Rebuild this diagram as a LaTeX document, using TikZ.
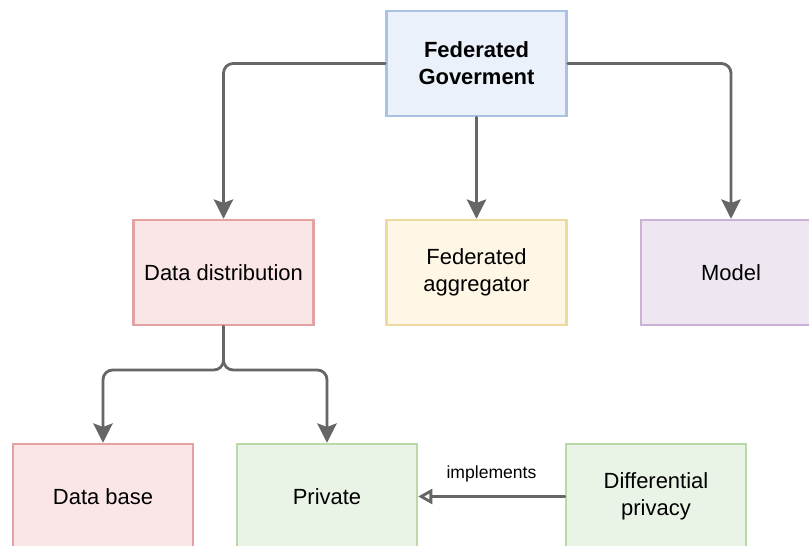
\documentclass[tikz,border=0pt]{standalone}
\usepackage{fontspec}
\setmainfont{Liberation Sans}
\usepackage{tikz}
\usetikzlibrary{arrows.meta}
\usepackage{xcolor}
\definecolor{edgegray}{HTML}{666666}
\definecolor{bluefill}{HTML}{EAF1FB}\definecolor{bluedraw}{HTML}{A9C2E3}
\definecolor{redfill}{HTML}{FAE6E6}\definecolor{reddraw}{HTML}{E3A3A3}
\definecolor{yellowfill}{HTML}{FFF7E5}\definecolor{yellowdraw}{HTML}{EED9A0}
\definecolor{purplefill}{HTML}{EEE7F2}\definecolor{purpledraw}{HTML}{C9B2D6}
\definecolor{greenfill}{HTML}{E9F3E6}\definecolor{greendraw}{HTML}{B9D9A9}

\begin{document}
\begin{tikzpicture}[x=0.02cm,y=-0.02cm,>={Stealth[length=11pt,width=11pt,inset=2pt]},
  font=\fontsize{12.5}{15.3}\selectfont,line cap=round,
  box/.style={draw,line width=1.4pt,minimum width=3.6cm,minimum height=2.1cm,align=center,inner sep=0pt},
  link/.style={->,edgegray,line width=1.6pt,rounded corners=5.5pt}]
\clip (0,0) rectangle (809,546);
\node[box,fill=bluefill,draw=bluedraw,font=\fontsize{12.5}{15.3}\selectfont\bfseries] (gov) at (476.5,63.5) {Federated\\Goverment};
\node[box,fill=redfill,draw=reddraw] (dd) at (223.5,272.5) {Data distribution};
\node[box,fill=yellowfill,draw=yellowdraw] (agg) at (476.5,272.5) {Federated\\aggregator};
\node[box,fill=purplefill,draw=purpledraw] (model) at (731,272.5) {Model};
\node[box,fill=redfill,draw=reddraw] (db) at (103,496.5) {Data base};
\node[box,fill=greenfill,draw=greendraw] (priv) at (327,496.5) {Private};
\node[box,fill=greenfill,draw=greendraw] (dp) at (656,496.5) {Differential\\privacy};
\coordinate (split) at (223.5,370);
\draw[link] (gov.west) -| (dd.north);
\draw[link] (gov.south) -- (agg.north);
\draw[link] (gov.east) -| (model.north);
\draw[link] (dd.south) -- (split) -| (db.north);
\draw[link] (dd.south) -- (split) -| (priv.north);
\draw[edgegray,line width=1.6pt,-{Triangle[open,length=8pt,width=8.5pt]}] (dp.west) -- (priv.east)
  node[midway,above=4pt,text=black,font=\fontsize{10}{12}\selectfont] {implements};
\end{tikzpicture}
\end{document}
